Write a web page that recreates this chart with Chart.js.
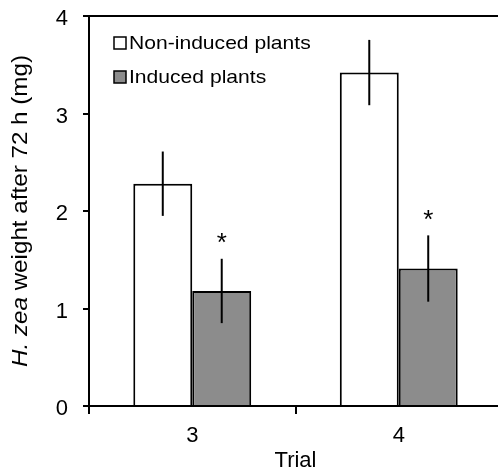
<!DOCTYPE html>
<html>
<head>
<meta charset="utf-8">
<script src="https://cdn.jsdelivr.net/npm/chart.js@4"></script>
<style>
  html, body { margin: 0; padding: 0; overflow: hidden; background: #fff; }
  #wrap { width: 503px; height: 471px; }
</style>
</head>
<body>
<div id="wrap"><canvas id="weightChart" width="503" height="471"></canvas></div>
<script>
const trials = ["3", "4"];
const nonInduced = [2.28, 3.42];
const nonInducedErr = [0.33, 0.335];
const induced = [1.18, 1.41];
const inducedErr = [0.33, 0.34];
const signif = [false, true]; // asterisk per dataset (non-induced, induced)
const yTicks = [0, 1, 2, 3, 4];

const FONT = "'Liberation Sans', Arial, sans-serif";

// text in the source figure is a bit wider than plain Arial
function wideText(ctx, text, x, y, font, stretch) {
  ctx.save();
  ctx.font = font;
  ctx.translate(x, y);
  ctx.scale(stretch, 1);
  ctx.fillText(text, 0, 0);
  ctx.restore();
}

const extras = {
  id: "extras",
  afterDraw(chart) {
    const ctx = chart.ctx;
    const y = chart.scales.y;
    const area = chart.chartArea;

    // frame top and right
    ctx.save();
    ctx.strokeStyle = "#000";
    ctx.lineWidth = 2;
    ctx.beginPath();
    ctx.moveTo(area.left, area.top);
    ctx.lineTo(area.right, area.top);
    ctx.lineTo(area.right, area.bottom);
    ctx.stroke();

    // error bars and asterisks
    const errs = [nonInducedErr, inducedErr];
    chart.data.datasets.forEach((ds, di) => {
      const meta = chart.getDatasetMeta(di);
      meta.data.forEach((bar, i) => {
        const v = ds.data[i];
        const top = y.getPixelForValue(v + errs[di][i]);
        const bot = y.getPixelForValue(v - errs[di][i]);
        ctx.beginPath();
        ctx.lineWidth = 2;
        ctx.moveTo(bar.x, top);
        ctx.lineTo(bar.x, bot);
        ctx.stroke();
        if (signif[di]) {
          ctx.fillStyle = "#000";
          ctx.font = "26px " + FONT;
          ctx.textAlign = "center";
          ctx.textBaseline = "middle";
          ctx.fillText("*", bar.x, top - 15);
        }
      });
    });

    // legend inside the plot
    chart.data.datasets.forEach((ds, di) => {
      const ly = 43 + di * 34;
      ctx.fillStyle = ds.backgroundColor;
      ctx.fillRect(114, ly - 6, 12, 12);
      ctx.lineWidth = 1.5;
      ctx.strokeStyle = "#000";
      ctx.strokeRect(114, ly - 6, 12, 12);
      ctx.fillStyle = "#000";
      ctx.textAlign = "left";
      ctx.textBaseline = "middle";
      wideText(ctx, ds.label, 129, ly + 1, "19px " + FONT, 1.11);
    });

    // y axis title with italic species name
    ctx.translate(21, (area.top + area.bottom) / 2);
    ctx.rotate(-Math.PI / 2);
    ctx.scale(1.1, 1);
    ctx.textBaseline = "middle";
    ctx.textAlign = "left";
    const italic = "italic 22px " + FONT;
    const normal = "22px " + FONT;
    ctx.font = italic;
    const w1 = ctx.measureText("H. zea").width;
    ctx.font = normal;
    const rest = " weight after 72 h (mg)";
    const w2 = ctx.measureText(rest).width;
    const x0 = -(w1 + w2) / 2;
    ctx.fillStyle = "#000";
    ctx.font = italic;
    ctx.fillText("H. zea", x0, 0);
    ctx.font = normal;
    ctx.fillText(rest, x0 + w1, 0);
    ctx.restore();
  },
};

new Chart(document.getElementById("weightChart"), {
  type: "bar",
  data: {
    labels: trials,
    datasets: [
      {
        label: "Non-induced plants",
        data: nonInduced,
        backgroundColor: "#ffffff",
        borderColor: "#000000",
        borderWidth: 2,
        borderSkipped: "start",
      },
      {
        label: "Induced plants",
        data: induced,
        backgroundColor: "#8c8c8c",
        borderColor: "#000000",
        borderWidth: 2,
        borderSkipped: "start",
      },
    ],
  },
  options: {
    responsive: false,
    animation: false,
    devicePixelRatio: 1,
    categoryPercentage: 0.571,
    barPercentage: 1,
    layout: { padding: { top: 16, right: 1, left: 0, bottom: 0 } },
    plugins: {
      legend: { display: false },
      tooltip: { enabled: false },
    },
    scales: {
      x: {
        z: 1,
        grid: {
          offset: true,
          drawOnChartArea: false,
          drawTicks: true,
          tickLength: 8,
          color: "#000",
          lineWidth: 2,
        },
        border: { color: "#000", width: 2 },
        ticks: { color: "#000", font: { family: FONT, size: 22 }, padding: 9 },
        title: {
          display: true,
          text: "Trial",
          color: "#000",
          font: { family: FONT, size: 22 },
          padding: { top: 0, bottom: -3 },
        },
        afterFit(scale) {
          scale.height = 65;
          scale.paddingLeft = 0;
          scale.paddingRight = 0;
        },
      },
      y: {
        z: 1,
        min: 0,
        max: 4,
        afterBuildTicks(scale) { scale.ticks = yTicks.map((v) => ({ value: v })); },
        grid: {
          drawOnChartArea: false,
          drawTicks: true,
          tickLength: 6,
          color: "#000",
          lineWidth: 2,
        },
        border: { color: "#000", width: 2 },
        ticks: {
          color: "#000",
          font: { family: FONT, size: 22 },
          padding: 15,
          labelOffset: 3,
        },
        afterFit(scale) {
          scale.width = 89;
          scale.paddingTop = 0;
          scale.paddingBottom = 0;
        },
      },
    },
  },
  plugins: [extras],
});
</script>
</body>
</html>
